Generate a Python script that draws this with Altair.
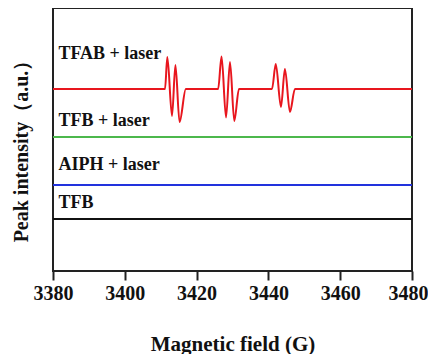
import altair as alt
import pandas as pd

# Magnetic field (G) and intensity (a.u.)
red_field = [3380, 3411.2, 3411.85, 3413.15, 3414.1, 3415.25, 3417.0,
             3426.0, 3426.95, 3428.2, 3429.3, 3430.5, 3431.8,
             3441.0, 3442.05, 3443.5, 3444.6, 3446.0, 3447.4, 3480]
red_int = [182, 182, 214, 155, 206, 149, 182,
           182, 214.5, 153.5, 209, 150, 182,
           182, 207, 164, 202, 159, 182, 182]

flat_field = [3380, 3480]
green_level = 134
blue_level = 86
black_level = 52

labels = ["TFAB + laser", "TFB + laser", "AIPH + laser", "TFB"]
label_y = [217, 150, 106.5, 68.5]
label_x = 3381.5

tick_vals = [3380, 3400, 3420, 3440, 3460, 3480]

red_df = pd.DataFrame({"field": red_field, "intensity": red_int})
flat_df = pd.DataFrame({
    "field": flat_field * 3,
    "intensity": [green_level] * 2 + [blue_level] * 2 + [black_level] * 2,
    "series": ["TFB + laser"] * 2 + ["AIPH + laser"] * 2 + ["TFB"] * 2,
})
lab_df = pd.DataFrame({"label": labels, "y": label_y, "x": [label_x] * 4})

FONT = "Liberation Serif"

xs = alt.Scale(domain=[3380, 3480], nice=False, zero=False)
ys = alt.Scale(domain=[0, 263], nice=False, zero=False)

xax = alt.Axis(values=tick_vals, format="d", title="Magnetic field (G)",
               domain=False, grid=False, tickSize=9, tickWidth=2,
               tickColor="#222", labelFont=FONT, labelFontSize=20,
               labelFontWeight="bold", labelColor="#111", labelPadding=3,
               labelFlush=False,
               labelOffset={"condition": {"test": "datum.value == 3480",
                                          "value": -4}, "value": 0},
               titleFont=FONT, titleFontSize=21,
               titleFontWeight="bold", titleColor="#111",
               titleBaseline="alphabetic", titleY=79)
yax = alt.Axis(title="Peak intensity（a.u.）", labels=False, ticks=False,
               domain=False, grid=False, titleFont=FONT, titleFontSize=20,
               titleFontWeight="bold", titleColor="#111", titleAngle=270,
               titleBaseline="alphabetic", titleAlign="center",
               titleX=-26, titleY=138)

red = alt.Chart(red_df).mark_line(color="#e8161e", strokeWidth=2,
                                  interpolate="monotone").encode(
    x=alt.X("field:Q", scale=xs, axis=xax),
    y=alt.Y("intensity:Q", scale=ys, axis=yax),
)

flat = alt.Chart(flat_df).mark_line(strokeWidth=2).encode(
    x=alt.X("field:Q", scale=xs),
    y=alt.Y("intensity:Q", scale=ys),
    detail="series:N",
    color=alt.Color("series:N", scale=alt.Scale(
        domain=["TFB + laser", "AIPH + laser", "TFB"],
        range=["#4cb84c", "#2233dd", "#111111"]), legend=None),
)

text = alt.Chart(lab_df).mark_text(align="left", baseline="middle",
                                   font=FONT, fontSize=18, fontWeight="bold",
                                   color="#111").encode(
    x=alt.X("x:Q", scale=xs),
    y=alt.Y("y:Q", scale=ys),
    text="label:N",
)

chart = alt.layer(flat, red, text).properties(
    width=359, height=263,
    autosize=alt.AutoSizeParams(type="none"),
    padding={"left": 45, "top": 0, "right": 16, "bottom": 83},
).configure_view(stroke="#222", strokeWidth=2)

chart.save("out.html", embed_options={"renderer": "svg", "actions": False})
